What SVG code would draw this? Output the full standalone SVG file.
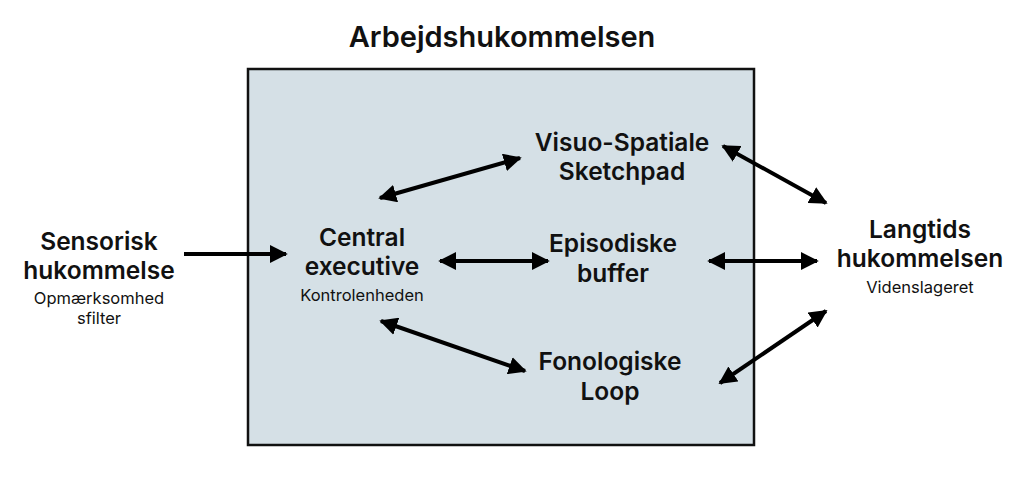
<svg xmlns="http://www.w3.org/2000/svg" width="1024" height="494" viewBox="0 0 1024 494">
<defs>
<marker id="ah" viewBox="0 0 10 10" refX="9" refY="5" markerWidth="4.5" markerHeight="4.5" orient="auto-start-reverse" markerUnits="strokeWidth">
<path d="M0,0 L10,5 L0,10 z" fill="#000"/>
</marker>
<style>
.t{font-family:Inter,"Noto Sans",sans-serif;font-weight:600;font-size:24.5px;fill:#111;text-anchor:middle}
.s{font-family:Inter,"Noto Sans",sans-serif;font-weight:400;font-size:16.5px;fill:#111;text-anchor:middle}
.h{font-family:Inter,"Noto Sans",sans-serif;font-weight:600;font-size:29px;fill:#111;text-anchor:middle}
.c{stroke:#000;stroke-width:4;fill:none}
</style>
</defs>
<rect width="1024" height="494" fill="#fff"/>
<g id="workingmemory">
<rect x="248" y="69" width="506" height="376" fill="#d5e0e6" stroke="#111" stroke-width="2.5"/>
<text class="h" x="502" y="47">Arbejdshukommelsen</text>
</g>
<g id="sensory">
<text class="t" x="99" y="250">Sensorisk</text>
<text class="t" x="99" y="279">hukommelse</text>
<text class="s" x="99" y="304">Opmærksomhed</text>
<text class="s" x="99" y="324">sfilter</text>
</g>
<g id="central">
<text class="t" x="362" y="246">Central</text>
<text class="t" x="362" y="275">executive</text>
<text class="s" x="362" y="301">Kontrolenheden</text>
</g>
<g id="visuo">
<text class="t" x="622" y="151">Visuo-Spatiale</text>
<text class="t" x="622" y="180">Sketchpad</text>
</g>
<g id="episodic">
<text class="t" x="613" y="252">Episodiske</text>
<text class="t" x="613" y="282">buffer</text>
</g>
<g id="phono">
<text class="t" x="610" y="370">Fonologiske</text>
<text class="t" x="610" y="400">Loop</text>
</g>
<g id="longterm">
<text class="t" x="920" y="238">Langtids</text>
<text class="t" x="920" y="267">hukommelsen</text>
<text class="s" x="920" y="293">Videnslageret</text>
</g>
<g id="connectors">
<line class="c" x1="184" y1="254" x2="286" y2="254" marker-end="url(#ah)"/>
<line class="c" x1="380" y1="198" x2="520" y2="158" marker-start="url(#ah)" marker-end="url(#ah)"/>
<line class="c" x1="440" y1="261" x2="548" y2="261" marker-start="url(#ah)" marker-end="url(#ah)"/>
<line class="c" x1="381" y1="321" x2="525" y2="371" marker-start="url(#ah)" marker-end="url(#ah)"/>
<line class="c" x1="723" y1="146" x2="826" y2="203" marker-start="url(#ah)" marker-end="url(#ah)"/>
<line class="c" x1="709" y1="261" x2="817" y2="261" marker-start="url(#ah)" marker-end="url(#ah)"/>
<line class="c" x1="720" y1="383" x2="826" y2="311" marker-start="url(#ah)" marker-end="url(#ah)"/>
</g>
</svg>
